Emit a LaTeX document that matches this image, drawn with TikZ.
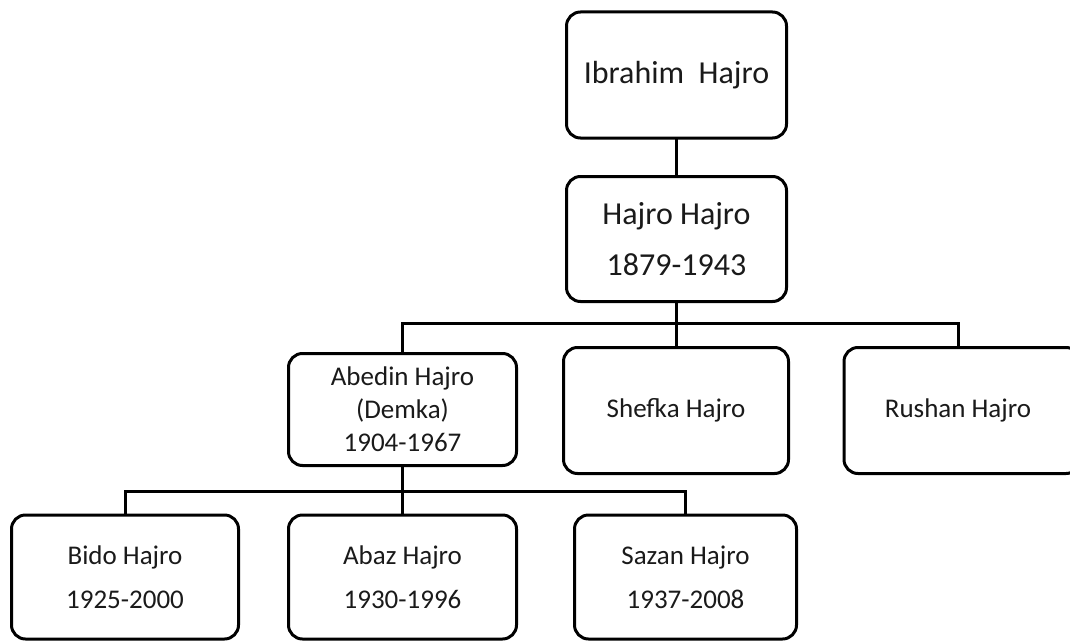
\documentclass[tikz,border=0pt]{standalone}
\usepackage{fontspec}
\setmainfont{Carlito}
\definecolor{txt}{HTML}{1A1A1A}
\begin{document}
\begin{tikzpicture}[x=1pt,y=-1pt,
  box/.style={draw=black, line width=3pt, rounded corners=14pt, align=center, text=txt, inner sep=0pt},
  big/.style={box, font=\fontsize{32}{51}\selectfont},
  mid/.style={box, font=\fontsize{27}{33}\selectfont},
  low/.style={box, font=\fontsize{27}{44}\selectfont},
  link/.style={line width=3pt, line cap=rect}]
\useasboundingbox (0,0) rectangle (1070,642);
\clip (0,0) rectangle (1070,642);
\node[big, minimum width=220pt, minimum height=126pt] (ibr) at (676.5,75) {Ibrahim\ \ Hajro};
\node[big, minimum width=220pt, minimum height=125pt] (haj) at (676.5,239) {Hajro Hajro\\1879-1943};
\node[mid, minimum width=228pt, minimum height=112pt] (abe) at (402.5,409.5) {Abedin Hajro\\(Demka)\\1904-1967};
\node[mid, minimum width=225pt, minimum height=126pt] (she) at (676,410.5) {Shefka Hajro};
\node[mid, minimum width=236pt, minimum height=126pt] (rus) at (962,410.5) {\hspace*{-8pt}Rushan Hajro};
\node[low, minimum width=227pt, minimum height=124pt] (bid) at (125,577) {Bido Hajro\\1925-2000};
\node[low, minimum width=228pt, minimum height=124pt] (aba) at (402.5,577) {Abaz Hajro\\1930-1996};
\node[low, minimum width=222pt, minimum height=124pt] (saz) at (685.5,577) {Sazan Hajro\\1937-2008};
\coordinate (b1) at (676.5,323);
\coordinate (b2) at (402.5,491);
\coordinate (r1) at (958,323);
\draw[link] (ibr.south) -- (haj.north);
\draw[link] (haj.south) -- (b1);
\draw[link] (abe.north) |- (b1) -- (r1) -- (r1 |- rus.north);
\draw[link] (she.north) -- (she.north |- b1);
\draw[link] (abe.south) -- (b2);
\draw[link] (bid.north) |- (b2) -| (saz.north);
\draw[link] (aba.north) -- (b2);
\end{tikzpicture}
\end{document}
